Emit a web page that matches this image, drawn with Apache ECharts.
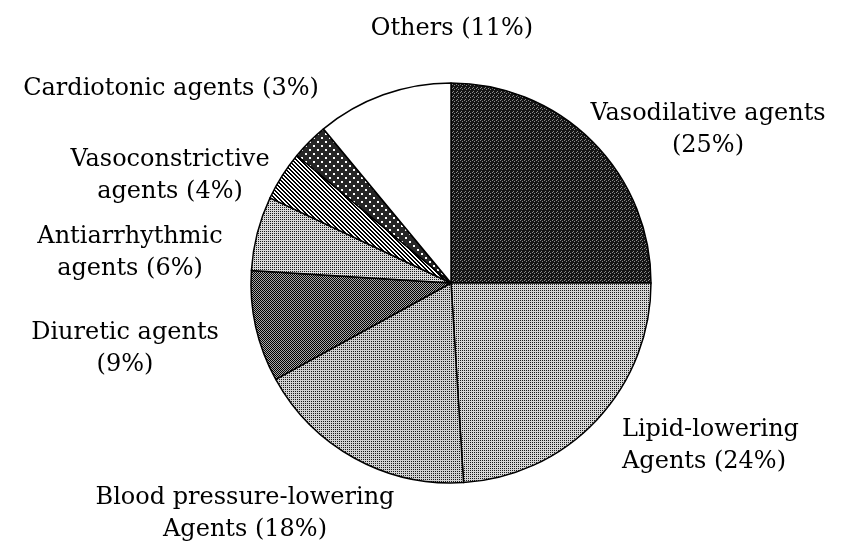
<!DOCTYPE html>
<html>
<head>
<meta charset="utf-8">
<script src="https://cdn.jsdelivr.net/npm/echarts@6/dist/echarts.min.js"></script>
<style>
html,body{margin:0;padding:0;background:#fff;}
#chart{width:841px;height:556px;}
</style>
</head>
<body>
<div id="chart"></div>
<script>
// ---- data ----
const categories = [
  'Vasodilative agents\n',
  'Lipid-lowering\nAgents',
  'Blood pressure-lowering\nAgents',
  'Diuretic agents\n',
  'Antiarrhythmic\nagents',
  'Vasoconstrictive\nagents',
  'Cardiotonic agents',
  'Others'
];
const values = [25, 24, 18, 9, 6, 4, 3, 11];

// ---- patterns (styles) ----
function makePattern(size, bg, fg, cells) {
  const c = document.createElement('canvas');
  c.width = size; c.height = size;
  const ctx = c.getContext('2d');
  ctx.fillStyle = bg; ctx.fillRect(0, 0, size, size);
  ctx.fillStyle = fg;
  cells.forEach(p => ctx.fillRect(p[0], p[1], p[2] || 1, p[3] || 1));
  return { image: c, repeat: 'repeat' };
}
const pDark = makePattern(4, '#141414', '#8a8a8a', [[0,0],[2,1],[1,3]]);
const pLight = makePattern(2, '#d6d6d6', '#1a1a1a', [[0,0]]);
const pLight2 = makePattern(2, '#d2d2d2', '#1a1a1a', [[1,1]]);
const pLight3 = makePattern(2, '#dadada', '#1a1a1a', [[0,1]]);
const pMid = makePattern(2, '#a8a8a8', '#000000', [[0,0],[1,1]]);
const pStripe = (function(){
  const cells = [];
  for (let y = 0; y < 4; y++) for (let x = 0; x < 4; x++) {
    const m = ((x - y) % 4 + 4) % 4;
    if (m === 0 || m === 1) cells.push([x, y]);
  }
  return makePattern(4, '#ffffff', '#000000', cells);
})();
const pDots = makePattern(8, '#262626', '#ffffff', [[1,1,2,2],[5,5,2,2]]);
const fills = [pDark, pLight, pLight2, pMid, pLight3, pStripe, pDots, '#ffffff'];

// label layout (style)
const labelPos = [
  [708, 130, 'center'],
  [622, 446, 'left'],
  [245, 514, 'center'],
  [125, 349, 'center'],
  [130, 253, 'center'],
  [170, 176, 'center'],
  [171, 89, 'center'],
  [452, 29, 'center']
];

const chart = echarts.init(document.getElementById('chart'));
chart.setOption({
  backgroundColor: '#ffffff',
  animation: false,
  series: [{
    type: 'pie',
    center: [451, 283],
    radius: 200,
    startAngle: 90,
    clockwise: true,
    avoidLabelOverlap: false,
    data: categories.map((c, i) => ({
      name: c,
      value: values[i],
      itemStyle: { color: fills[i] }
    })),
    itemStyle: { borderColor: '#000', borderWidth: 1.5 },
    label: {
      show: true,
      color: '#000',
      fontFamily: 'DejaVu Serif',
      fontSize: 24,
      lineHeight: 32,
      formatter: p => p.name.endsWith('\n') ? p.name + '(' + p.value + '%)' : p.name + ' (' + p.value + '%)'
    },
    labelLine: { show: false },
    labelLayout: function (params) {
      const lp = labelPos[params.dataIndex];
      return { x: lp[0], y: lp[1], align: lp[2], verticalAlign: 'middle' };
    },
    emphasis: { disabled: true }
  }]
});
</script>
</body>
</html>
